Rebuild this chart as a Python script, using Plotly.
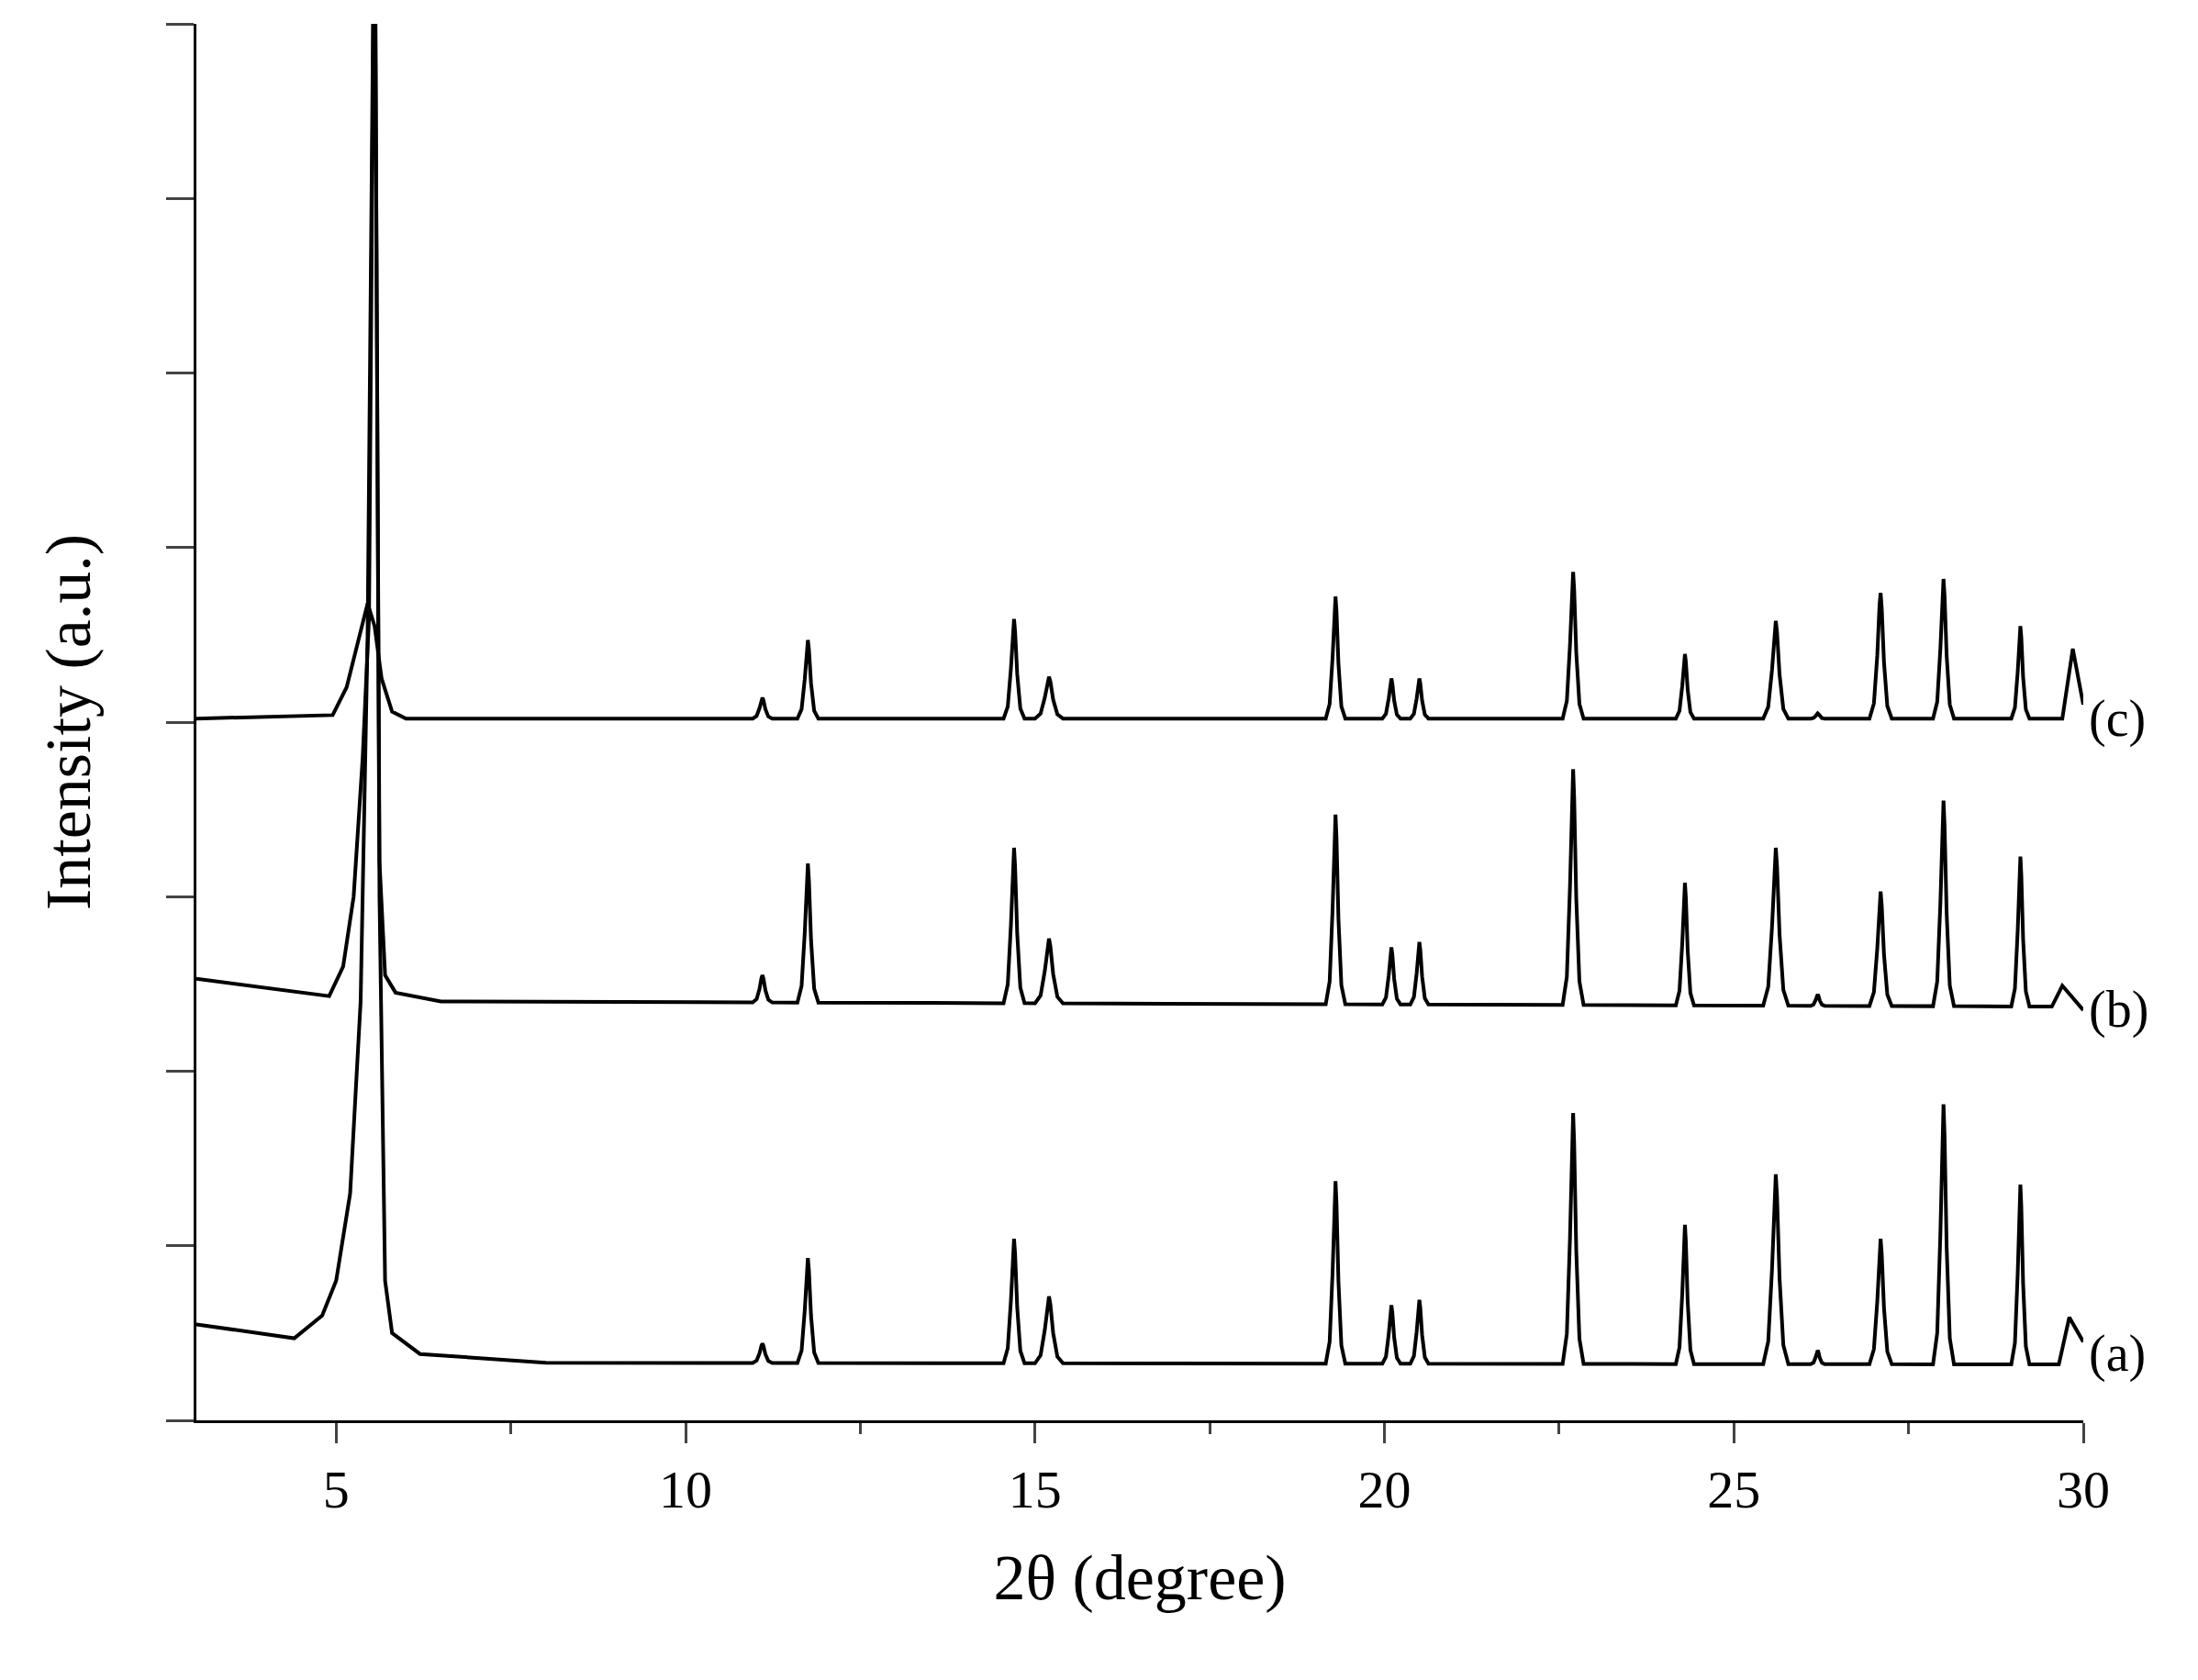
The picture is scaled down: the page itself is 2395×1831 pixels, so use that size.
import plotly.graph_objects as go

# Peak positions (2theta) and heights (a.u., y-axis units)
peak_x = [11.1, 11.75, 14.7, 15.2, 19.3, 20.1, 20.5, 22.7, 24.3, 25.6, 26.2, 27.1, 28.0, 29.1]
peak_w = [0.14, 0.15, 0.15, 0.2, 0.14, 0.13, 0.13, 0.15, 0.13, 0.18, 0.1, 0.16, 0.15, 0.13]

a_base = [3.0, 0.55, 4.4, 0.47, 4.8, 0.6, 5.0, 0.8, 5.2, 1.3, 5.35, 2.4, 5.45, 4.5, 5.55, 9.0,
          5.62, 3.0, 5.7, 0.8, 5.8, 0.5, 6.2, 0.38, 8.0, 0.33, 30.0, 0.32]
a_peaks = [0.44, 0.93, 1.04, 0.71, 1.37, 0.66, 0.69, 1.76, 1.12, 1.41, 0.40, 1.04, 1.81, 1.35]
a_tail = [29.8, 0.59, 30.0, 0.45]

b_base = [3.0, 2.53, 4.9, 2.43, 5.1, 2.6, 5.25, 3.0, 5.38, 3.8, 5.47, 4.6, 5.55, 9.0, 5.62, 3.2,
          5.7, 2.55, 5.85, 2.45, 6.5, 2.40, 30.0, 2.37]
b_peaks = [2.55, 3.19, 3.28, 2.76, 3.47, 2.71, 2.74, 3.73, 3.08, 3.28, 2.44, 3.03, 3.55, 3.23]
b_tail = [29.7, 2.49, 30.0, 2.35]

c_base = [3.0, 4.02, 4.95, 4.04, 5.15, 4.2, 5.3, 4.45, 5.45, 4.68, 5.55, 4.55, 5.65, 4.25,
          5.8, 4.06, 6.0, 4.02, 30.0, 4.02]
c_peaks = [4.14, 4.47, 4.59, 4.26, 4.72, 4.25, 4.25, 4.86, 4.39, 4.58, 4.05, 4.74, 4.82, 4.55]
c_tail = [29.85, 4.42, 30.0, 4.10]

labels = ["(a)", "(b)", "(c)"]
label_y = [0.38, 2.35, 4.02]
x_ticks = [5, 10, 15, 20, 25, 30]


def build(base, peaks, tail):
    pts = [(base[i], base[i + 1]) for i in range(0, len(base), 2)]
    def level(x):
        for (x0, y0), (x1, y1) in zip(pts, pts[1:]):
            if x0 <= x <= x1 and x > 6.5:
                return y0 + (y1 - y0) * (x - x0) / (x1 - x0)
        return pts[-1][1]
    extra = []
    for p, w, h in zip(peak_x, peak_w, peaks):
        b = level(p)
        extra += [(p - w, b), (p - w * 0.6, b + (h - b) * 0.12), (p - w * 0.3, b + (h - b) * 0.5),
                  (p - w * 0.1, b + (h - b) * 0.9), (p, h), (p + w * 0.1, b + (h - b) * 0.88),
                  (p + w * 0.3, b + (h - b) * 0.45), (p + w * 0.6, b + (h - b) * 0.1), (p + w, b)]
    tp = [(tail[i], tail[i + 1]) for i in range(0, len(tail), 2)]
    extra += [(tp[0][0] - 0.15, level(tp[0][0]))]
    allp = sorted(pts[:-1] + extra + tp)
    return [q[0] for q in allp], [q[1] for q in allp]


fig = go.Figure()
for base, peaks, tail in [(a_base, a_peaks, a_tail), (b_base, b_peaks, b_tail), (c_base, c_peaks, c_tail)]:
    xs, ys = build(base, peaks, tail)
    fig.add_trace(go.Scatter(x=xs, y=ys, mode="lines", line=dict(color="black", width=4), showlegend=False))

for lab, ly in zip(labels, label_y):
    fig.add_annotation(x=1.0, xref="paper", y=ly, yref="y", text=lab, showarrow=False,
                       xanchor="left", xshift=4, font=dict(size=56))

fig.update_layout(
    width=2395, height=1831,
    margin=dict(l=206, r=133, t=18, b=291),
    plot_bgcolor="white", paper_bgcolor="white",
    font=dict(family="Liberation Serif", size=58, color="black"),
)
fig.update_xaxes(range=[3, 30], tickvals=x_ticks, showline=True, linecolor="black", linewidth=3,
                 ticks="outside", ticklen=22, tickwidth=3, showgrid=False, zeroline=False,
                 minor=dict(dtick=2.5, tick0=0, ticks="outside", ticklen=12, tickwidth=3),
                 title=dict(text="2θ (degree)", standoff=40))
fig.update_yaxes(range=[0, 8], dtick=1, showticklabels=False, showline=True, linecolor="black", linewidth=3,
                 ticks="outside", ticklen=30, tickwidth=3, showgrid=False, zeroline=False,
                 title=dict(text="Intensity (a.u.)", standoff=60))
fig.write_html("out.html")
